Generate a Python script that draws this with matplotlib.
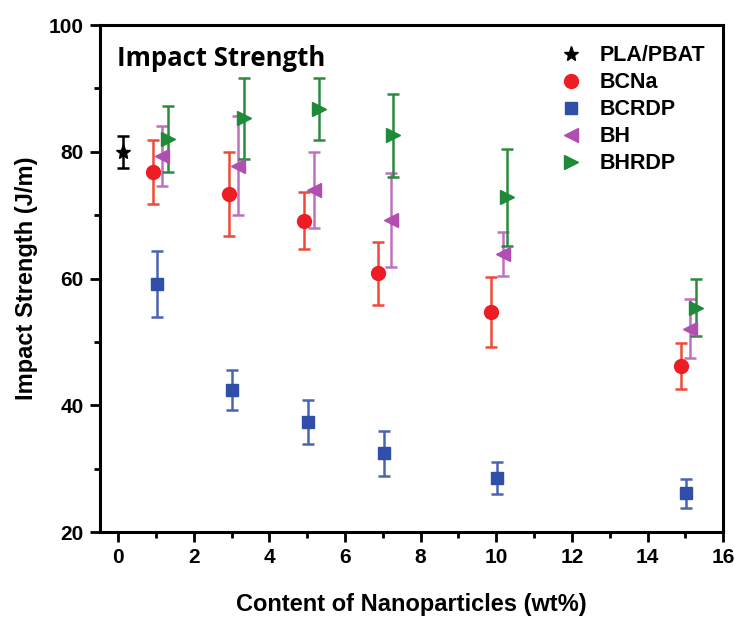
# impact strength vs nanoparticle content, scatter with error bars
import matplotlib.pyplot as plt
from matplotlib.lines import Line2D
from matplotlib.ticker import MultipleLocator

plt.rcParams['font.family'] = ['Liberation Sans', 'DejaVu Sans']
plt.rcParams['font.weight'] = 'bold'

# PLA/PBAT reference
neat_x: list = [0.12]
neat_y: list = [80.0]
neat_err: list = [2.5]

bcna_x: list = [0.92, 2.92, 4.92, 6.87, 9.87, 14.87]
bcna_y: list = [76.8, 73.3, 69.1, 60.8, 54.7, 46.2]
bcna_err: list = [5.0, 6.6, 4.5, 5.0, 5.5, 3.7]

bcrdp_x: list = [1.02, 3.02, 5.02, 7.02, 10.02, 15.02]
bcrdp_y: list = [59.1, 42.4, 37.4, 32.4, 28.5, 26.1]
bcrdp_err: list = [5.2, 3.2, 3.5, 3.6, 2.5, 2.3]

bh_x: list = [1.17, 3.17, 5.17, 7.22, 10.17, 15.12]
bh_y: list = [79.3, 77.8, 73.9, 69.3, 63.9, 52.1]
bh_err: list = [4.7, 7.8, 6.0, 7.4, 3.5, 4.6]

bhrdp_x: list = [1.32, 3.32, 5.32, 7.27, 10.27, 15.27]
bhrdp_y: list = [82.0, 85.3, 86.7, 82.6, 72.8, 55.4]
bhrdp_err: list = [5.2, 6.4, 4.9, 6.6, 7.7, 4.5]

series: list = [
    (neat_x, neat_y, neat_err, '*', 'black', 'black', 'PLA/PBAT', 11),
    (bcna_x, bcna_y, bcna_err, 'o', '#ee1c25', '#f04a36', 'BCNa', 10),
    (bcrdp_x, bcrdp_y, bcrdp_err, 's', '#2f4fa8', '#4a64b4', 'BCRDP', 8),
    (bh_x, bh_y, bh_err, '<', '#b04fb0', '#c070c0', 'BH', 10),
    (bhrdp_x, bhrdp_y, bhrdp_err, '>', '#1e8a3a', '#2a8a3e', 'BHRDP', 10),
]

fig = plt.figure(figsize = (7.35, 6.19), dpi = 100)
ax = fig.add_axes([0.136, 0.1405, 0.848, 0.819])

handles: list = []
for x, y, err, marker, color, ecolor, label, size in series:
    ax.errorbar(x, y, yerr = err, fmt = marker, color = color, ecolor = ecolor,
                markersize = size, elinewidth = 1.8, capsize = 4.5, capthick = 1.8,
                linestyle = 'none')
    # legend shows only the marker, no error bar
    handles.append(Line2D([], [], marker = marker, color = color, linestyle = 'none',
                          markersize = size, label = label))

ax.set_xlim(-0.48, 16)
ax.set_ylim(20, 100)
ax.xaxis.set_major_locator(MultipleLocator(2))
ax.xaxis.set_minor_locator(MultipleLocator(1))
ax.yaxis.set_major_locator(MultipleLocator(20))
ax.yaxis.set_minor_locator(MultipleLocator(10))
ax.tick_params(which = 'major', direction = 'out', length = 7.5, width = 2, labelsize = 15, pad = 4)
ax.tick_params(which = 'minor', direction = 'out', length = 4, width = 2)
for spine in ax.spines.values():
    spine.set_linewidth(2.2)

ax.set_xlabel('Content of Nanoparticles (wt%)', fontsize = 17, fontweight = 'bold', labelpad = 19)
ax.set_ylabel('Impact Strength (J/m)', fontsize = 17, fontweight = 'bold', labelpad = 8)

ax.text(0.028, 0.935, 'Impact Strength', transform = ax.transAxes, fontsize = 18.5,
        fontweight = 'bold', family = ['Open Sans', 'DejaVu Sans'], va = 'center')

ax.legend(handles = handles, loc = 'upper right', frameon = False, fontsize = 15.5,
          handletextpad = 0.3, labelspacing = 0.28, borderaxespad = 0.3,
          bbox_to_anchor = (0.995, 0.99))

fig.savefig('out.png', dpi = 100)
